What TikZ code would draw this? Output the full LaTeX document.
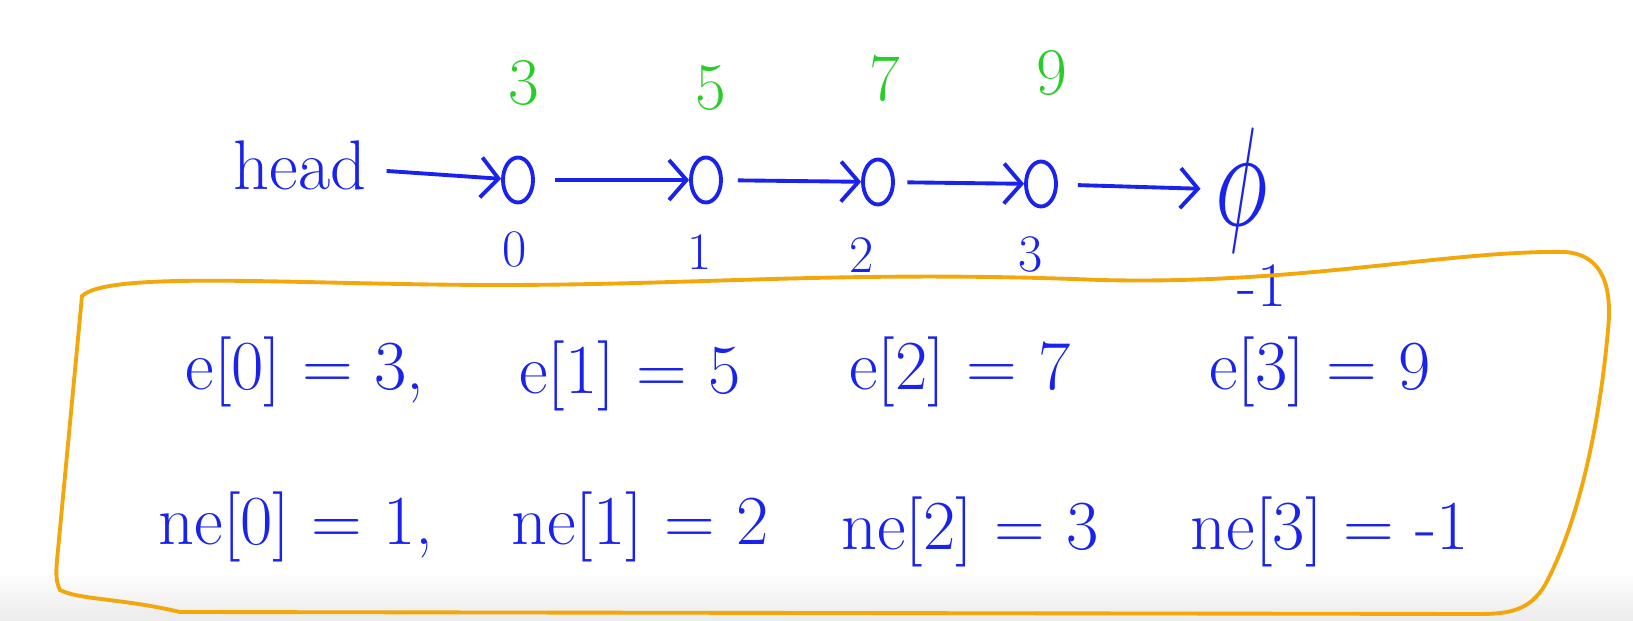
\documentclass[tikz,border=0pt]{standalone}
\usepackage{amsmath}
\usepackage{amssymb}
\usepackage{graphicx}
\usepackage{xcolor}
\usepackage{tikz}
\usetikzlibrary{
    positioning,
    arrows.meta,
    shapes.geometric,
}
\definecolor{penblue}{RGB}{25,35,235}
\definecolor{pengreen}{RGB}{40,205,40}
\definecolor{penorange}{RGB}{242,168,12}
\tikzset{
    % Pen styles
    ink/.style={text=penblue, inner sep=0pt},
    value/.style={text=pengreen, inner sep=0pt, font=\fontsize{38}{40}\selectfont},
    index/.style={ink, font=\fontsize{30}{32}\selectfont},
    entry/.style={ink, font=\fontsize{40}{44}\selectfont},
    % List cells
    cell/.style={ellipse, draw=penblue, line width=2.2pt, minimum width=0.6cm,
                 minimum height=0.9cm, inner sep=0pt},
    % Arrow and frame styles
    link/.style={-{Straight Barb[length=3.5mm, width=8mm, line width=2.2pt]},
                 penblue, line width=2.2pt, shorten <=0.4cm},
    frame/.style={draw=penorange, line width=2.2pt},
}

\begin{document}
\begin{tikzpicture}[x=0.02cm, y=-0.02cm]
    \useasboundingbox (0,0) rectangle (1633,621);

    % Bottom bar
    \shade[top color=white, bottom color=gray!16] (0,572) rectangle (1633,621);

    % List
    \node[ink, font=\fontsize{40}{44}\selectfont] (head) at (300,165) {head};
    \node[cell] (n0) at (518,180) {};
    \node[cell] (n1) at (706,180) {};
    \node[cell] (n2) at (878,182) {};
    \node[cell] (n3) at (1041,184) {};
    \node[ink] (nil) at (1242,190) {\scalebox{5}[8]{$\phi$}};

    % Values
    \node[value] (v0) at (524,83) {3};
    \node[value] (v1) at (711,88) {5};
    \node[value] (v2) at (885,78) {7};
    \node[value] (v3) at (1052,73) {9};

    % Indices
    \node[index] (i0) at (515,250) {0};
    \node[index] (i1) at (700,252) {1};
    \node[index] (i2) at (862,255) {2};
    \node[index] (i3) at (1031,255) {3};
    \node[index, font=\fontsize{36}{40}\selectfont] (i4) at (1262,286) {-1};

    % Arrows
    \draw[link] (head) -- (n0);
    \draw[link] (n0) -- (n1);
    \draw[link, shorten <=0.3cm] (n1) -- (n2);
    \draw[link, shorten <=0.25cm] (n2) -- (n3);
    \draw[link, shorten >=0.3cm] (n3) -- (nil);

    % Frame
    \draw[frame] (82,296) .. controls (110,270) and (300,285) .. (500,285)
        .. controls (700,285) and (850,270) .. (1100,280)
        .. controls (1300,285) and (1450,250) .. (1565,252)
        .. controls (1605,255) and (1612,290) .. (1608,330)
        .. controls (1600,420) and (1580,520) .. (1545,585)
        .. controls (1530,610) and (1510,614) .. (1480,614)
        -- (180,612) .. controls (120,598) and (80,600) .. (60,590)
        .. controls (55,580) and (56,570) .. (58,550) -- cycle;

    % Arrays
    \node[entry] (e0) at (305,372) {e[0] = 3,};
    \node[entry] (e1) at (630,376) {e[1] = 5};
    \node[entry] (e2) at (960,372) {e[2] = 7};
    \node[entry] (e3) at (1320,372) {e[3] = 9};
    \node[entry] (ne0) at (296,527) {ne[0] = 1,};
    \node[entry] (ne1) at (640,527) {ne[1] = 2};
    \node[entry] (ne2) at (970,532) {ne[2] = 3};
    \node[entry] (ne3) at (1330,532) {ne[3] = -1};
\end{tikzpicture}
\end{document}
